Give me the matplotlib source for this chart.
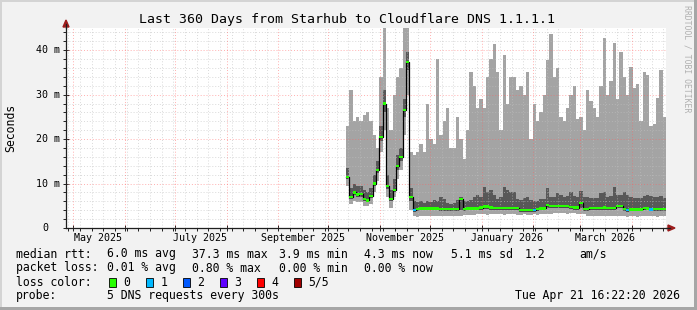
import matplotlib
matplotlib.use('Agg')
import matplotlib.pyplot as plt
import matplotlib.dates as mdates
from matplotlib.patches import Rectangle, Polygon
from matplotlib.lines import Line2D
import numpy as np
from datetime import datetime, timedelta

W, H = 697, 310

# time window of the graph and of the stored data (2 day bins)
start = datetime(2025, 4, 26, 16, 22, 20)
end = datetime(2026, 4, 21, 16, 22, 20)
data_start = datetime(2025, 10, 11, 16, 22, 20)
bin_days = 2

# values in ms
median = [11.5, 7.0, 8.0, 7.5, 7.6, 6.5, 6.2, 7.2, 10.0, 13.0, 20.5, 28.0, 9.5, 6.5, 8.5, 14.0, 16.0, 26.5, 37.3, 7.0,
          4.0, 4.3, 4.4, 4.4, 4.4, 4.4, 4.4, 4.4, 4.3, 4.3, 4.3, 4.3, 4.3, 4.3, 6.5, 4.3, 4.4, 4.4, 4.4, 4.4,
          4.6, 4.8, 4.8, 4.6, 4.5, 4.5, 4.5, 4.5, 4.5, 4.5, 4.5, 4.5, 4.1, 4.1, 4.0, 4.1, 4.0, 4.3, 4.4, 4.4,
          5.2, 5.0, 5.0, 5.0, 5.0, 5.0, 5.0, 4.7, 4.6, 4.6, 5.6, 4.3, 4.3, 4.5, 4.5, 4.5, 4.5, 4.6, 4.5, 4.5,
          4.5, 5.0, 4.9, 4.3, 4.1, 4.2, 4.2, 4.2, 4.2, 4.5, 4.4, 4.2, 4.3, 4.3, 4.3, 4.3]
ping_max = [23, 31, 24, 25, 24, 25.5, 26, 24, 21, 18, 34, 45, 27, 22, 30, 34, 36, 45, 45, 17,
            16.5, 17, 19, 17, 28, 20, 19, 38, 21, 24, 27, 18, 18, 25, 20, 15.5, 22, 35, 32, 27,
            29, 27, 34, 38, 41.5, 35, 22, 39, 28, 34, 34, 31, 32, 30, 35, 20, 28, 24, 26, 30,
            37.8, 43.6, 34, 36, 25, 24, 27, 30, 32, 24.5, 25, 22, 31, 28.5, 27, 25, 32, 42.7, 30, 33,
            41.6, 29, 39.7, 34, 30, 36.3, 31.5, 32.5, 24, 35, 34.5, 23, 23.5, 29.3, 35.5, 25]
ping_hi = [13.5, 9.0, 10.0, 9.5, 9.5, 8.5, 8.0, 9.0, 12.0, 15.0, 23.0, 31.0, 12.0, 8.5, 11.0, 16.5, 18.0, 29.0, 39.5, 9.0,
           6.0, 5.8, 6.0, 5.6, 6.0, 5.8, 6.2, 6.0, 7.0, 6.5, 5.6, 5.5, 5.7, 6.3, 7.0, 6.0, 6.0, 6.2, 7.0, 7.5,
           7.0, 9.3, 8.0, 8.5, 7.5, 6.5, 7.0, 9.3, 8.5, 8.0, 8.0, 6.5, 6.3, 6.8, 7.0, 6.2, 6.0, 6.0, 6.5, 6.5,
           9.0, 7.0, 7.0, 7.8, 7.5, 7.0, 7.2, 8.0, 7.2, 7.0, 8.3, 7.0, 7.0, 6.7, 6.7, 6.8, 7.8, 8.2, 7.0, 7.2,
           9.2, 7.5, 7.5, 8.0, 7.5, 7.0, 6.7, 6.7, 6.8, 7.3, 7.5, 7.2, 7.0, 7.0, 7.2, 6.7]
ping_lo = [11.0, 6.5, 7.5, 7.0, 7.0, 6.0, 5.8, 6.8, 9.5, 12.3, 19.5, 26.0, 8.8, 6.0, 8.0, 13.0, 15.0, 25.0, 35.5, 6.0,
           3.7, 3.9, 4.0, 4.0, 4.0, 4.0, 4.0, 4.0, 3.9, 3.9, 3.9, 3.9, 3.9, 3.9, 4.0, 3.9, 4.0, 4.0, 4.0, 4.0,
           4.1, 4.3, 4.3, 4.1, 4.0, 4.0, 4.0, 4.0, 4.0, 4.0, 4.0, 4.0, 3.7, 3.7, 3.6, 3.7, 3.6, 3.9, 4.0, 4.0,
           4.5, 4.4, 4.4, 4.4, 4.4, 4.4, 4.4, 4.2, 4.1, 4.1, 4.6, 3.9, 3.9, 4.0, 4.0, 4.0, 4.0, 4.1, 4.0, 4.0,
           4.0, 4.4, 4.4, 3.9, 3.7, 3.8, 3.8, 3.8, 3.8, 4.0, 4.0, 3.8, 3.9, 3.9, 3.9, 3.9]
ping_min = [9.5, 5.5, 6.0, 5.8, 5.8, 5.0, 5.0, 5.5, 8.0, 10.5, 17.0, 22.0, 7.0, 4.5, 7.0, 11.0, 13.0, 21.0, 30.0, 4.0,
            2.6, 2.5, 2.6, 2.6, 2.7, 2.6, 2.6, 2.7, 2.7, 2.8, 2.7, 2.8, 2.7, 2.8, 2.8, 2.9, 2.9, 3.0, 3.0, 3.1,
            3.1, 3.1, 3.0, 3.1, 3.2, 3.1, 3.1, 3.0, 3.1, 3.2, 3.1, 3.0, 3.0, 3.1, 2.9, 3.0, 3.1, 3.0, 3.1, 3.1,
            3.2, 3.2, 3.3, 3.3, 3.3, 3.3, 3.2, 3.3, 3.3, 3.2, 3.2, 3.1, 2.8, 2.7, 2.7, 2.6, 2.7, 2.6, 2.6, 2.7,
            2.6, 2.7, 2.6, 2.6, 2.5, 2.6, 2.6, 2.5, 2.6, 2.6, 2.7, 2.6, 2.6, 2.5, 2.6, 2.6]
# packets lost (of 5) per bin
loss = [0] * 20 + [1] + [0] * 35 + [1] + [0] * 27 + [1] + [0] * 6 + [1] + [0] * 4

loss_labels = ['0', '1', '2', '3', '4', '5/5']
loss_colors = ['#26ff00', '#00b8ff', '#0059ff', '#5e00ff', '#ff0000', '#a10000']

y_ticks = [0, 10, 20, 30, 40]
month_labels = ['May 2025', 'July 2025', 'September 2025', 'November 2025', 'January 2026', 'March 2026']

title = 'Last 360 Days from Starhub to Cloudflare DNS 1.1.1.1'
rtt_items = ['6.0 ms avg', '37.3 ms max', '3.9 ms min', '4.3 ms now', '5.1 ms sd', '1.2', 'am/s']
pl_items = ['0.01 % avg', '0.80 % max', '0.00 % min', '0.00 % now']
probe_text = '5 DNS requests every 300s'
stamp = 'Tue Apr 21 16:22:20 2026'

MONO = 'DejaVu Sans Mono'
LIGHT = '#a4a4a4'
DARK = '#585858'


def fpos(x, y):
    return x / W, 1 - y / H


def ftext(x, y, s, **kw):
    kw.setdefault('fontsize', 8.3)
    kw.setdefault('va', 'center')
    fig.text(*fpos(x, y), s, family=MONO, color='#000000', **kw)


fig = plt.figure(figsize=(W / 100, H / 100), dpi=100, facecolor='#f2f2f2')
ax = fig.add_axes([66 / W, 1 - 228 / H, 600 / W, 200 / H])
ax.set_facecolor('white')

x0 = mdates.date2num(start)
x1 = mdates.date2num(end)
edges = mdates.date2num(data_start) + bin_days * np.arange(len(median) + 1)


def ext(a):
    a = np.asarray(a, dtype=float)
    return np.append(a, a[-1])


# smoke
ax.fill_between(edges, ext(ping_min), ext(ping_lo), step='post', color=LIGHT, lw=0, zorder=1)
ax.fill_between(edges, ext(ping_lo), ext(ping_hi), step='post', color=DARK, lw=0, zorder=1)
ax.fill_between(edges, ext(ping_hi), ext(ping_max), step='post', color=LIGHT, lw=0, zorder=1)

# grid on top of the smoke, like rrdtool
for v in range(2, 45, 2):
    if v % 10:
        ax.axhline(v, color='#c0c0c0', alpha=0.6, lw=0.7, ls=(0, (1, 2)), zorder=2)
for v in y_ticks[1:]:
    ax.axhline(v, color='#ff6060', alpha=0.5, lw=0.7, ls=(0, (1, 2)), zorder=2)

months = []
d = datetime(start.year, start.month, 1)
while d < end:
    d = (d.replace(day=28) + timedelta(days=4)).replace(day=1)
    if d < end:
        months.append(d)
weeks = []
d = start + timedelta(days=(7 - start.weekday()) % 7)
d = d.replace(hour=0, minute=0, second=0)
while d < end:
    weeks.append(d)
    d += timedelta(days=7)
for w in weeks:
    if w.day != 1:
        ax.axvline(mdates.date2num(w), color='#c0c0c0', alpha=0.6, lw=0.7, ls=(0, (1, 2)), zorder=2)
for m in months:
    ax.axvline(mdates.date2num(m), color='#ff6060', alpha=0.5, lw=0.7, ls=(0, (1, 2)), zorder=2)

# median line with loss colour marks
ax.step(edges, ext(median), where='post', color='#000000', lw=0.9, zorder=3)
half = 0.28
ax.bar(edges[:-1], 2 * half, bottom=np.asarray(median) - half, width=bin_days, align='edge',
       color=[loss_colors[l] for l in loss], lw=0, zorder=4)

ax.set_xlim(x0, x1)
ax.set_ylim(0, 45)
for s in ['top', 'right']:
    ax.spines[s].set_visible(False)
for s in ['left', 'bottom']:
    ax.spines[s].set_color('#1f1f1f')
    ax.spines[s].set_linewidth(0.9)
    ax.spines[s].set_zorder(5)

ax.set_yticks(y_ticks)
ax.set_yticks(range(0, 45, 2), minor=True)
ax.set_xticks(mdates.date2num(months))
ax.set_xticks(mdates.date2num(weeks), minor=True)
ax.tick_params(which='major', direction='inout', length=4, width=0.7, color='#1f1f1f',
               labelleft=False, labelbottom=False)
ax.tick_params(which='minor', direction='out', length=2, width=0.7, color='#1f1f1f')

# tick labels
for v in y_ticks:
    if v:
        ax.text(-6 / 600, v, f'{v} m', transform=ax.get_yaxis_transform(), ha='right', va='center',
                family=MONO, fontsize=7.2)
    else:
        ax.text(-18 / 600, v, '0', transform=ax.get_yaxis_transform(), ha='right', va='center',
                family=MONO, fontsize=7.2)
for i, lab in enumerate(month_labels):
    mid = mdates.date2num(datetime(2025 + (4 + 2 * i) // 12, (4 + 2 * i) % 12 + 1, 16))
    ax.text(mid, -10 / 200, lab, transform=ax.get_xaxis_transform(), ha='center', va='center',
            family=MONO, fontsize=7.2)

# axis extensions with arrows
arrow_col = '#9c1c1c'
fig.add_artist(Line2D([fpos(666, 228)[0], fpos(670, 228)[0]], [fpos(666, 228)[1]] * 2,
                      color='#1f1f1f', lw=0.9))
fig.add_artist(Polygon([fpos(668, 225), fpos(675, 228), fpos(668, 231)], closed=True,
                       color=arrow_col, transform=fig.transFigure))
fig.add_artist(Line2D([fpos(66, 28)[0]] * 2, [fpos(66, 28)[1], fpos(66, 24)[1]],
                      color='#1f1f1f', lw=0.9))
fig.add_artist(Polygon([fpos(63, 27), fpos(66, 20), fpos(69, 27)], closed=True,
                       color=arrow_col, transform=fig.transFigure))

# title, axis label, watermark
ftext(347, 19, title, ha='center', fontsize=9.5)
ftext(11, 128, 'Seconds', ha='center', rotation=90)
fig.text(*fpos(687, 59), 'RRDTOOL / TOBI OETIKER', family=MONO, fontsize=5.9, color='#b0b0b0',
         rotation=270, ha='center', va='center')

# legend block
ftext(16, 254, 'median rtt:')
for s, x in zip(rtt_items, [107, 192, 279, 364, 451, 525, 579]):
    ftext(x, 254, s)
ftext(16, 268, 'packet loss:')
for s, x in zip(pl_items, [107, 192, 279, 364]):
    ftext(x, 268, s)
ftext(16, 282, 'loss color:')
for i, (lab, col) in enumerate(zip(loss_labels, loss_colors)):
    bx = 108.5 + 37 * i
    fig.add_artist(Rectangle(fpos(bx, 286.5), 7.5 / W, 9 / H, transform=fig.transFigure,
                             facecolor=col, edgecolor='#000000', lw=0.6))
    ftext(bx + 15, 282, lab)
ftext(16, 296, 'probe:')
ftext(107, 296, probe_text)
ftext(680, 296, stamp, ha='right')

# 3d frame
fig.add_artist(Rectangle((0, 1 - 2 / H), 1, 2 / H, transform=fig.transFigure, color='#d4d4d4', lw=0))
fig.add_artist(Rectangle((0, 0), 2 / W, 1, transform=fig.transFigure, color='#d4d4d4', lw=0))
fig.add_artist(Rectangle((0, 0), 1, 3 / H, transform=fig.transFigure, color='#a6a6a6', lw=0))
fig.add_artist(Rectangle((1 - 3 / W, 0), 3 / W, 1, transform=fig.transFigure, color='#a6a6a6', lw=0))

fig.savefig('out.png', dpi=100, facecolor=fig.get_facecolor())
